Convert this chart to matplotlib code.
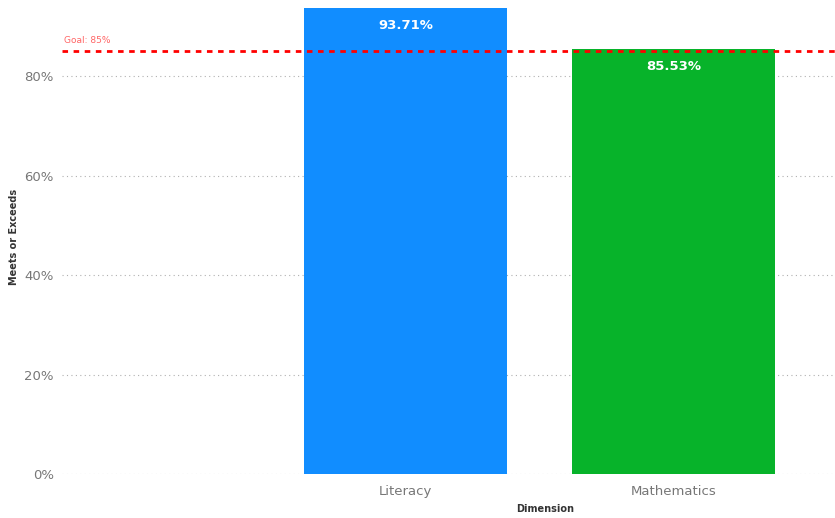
import numpy as np
import matplotlib.pyplot as plt
from matplotlib.ticker import PercentFormatter

categories = ['Literacy', 'Mathematics']
values = [0.9371, 0.8553]
colors = ['#118DFF', '#07B32A']
goal = 0.85
yticks = [0, 0.2, 0.4, 0.6, 0.8]

fig = plt.figure(figsize=(8.35, 5.18), dpi=100)
ax = fig.add_axes([62 / 835, 44 / 518, 773 / 835, 474 / 518])

x = np.arange(len(categories))
bars = ax.bar(x, values, width=0.756, color=colors, zorder=2)

ax.set_xlim(-1.279, 1.6)
ax.set_ylim(0, 0.9528)
ax.set_yticks(yticks)
ax.yaxis.set_major_formatter(PercentFormatter(1.0, decimals=0))
ax.set_xticks(x)
ax.set_xticklabels(categories)
ax.tick_params(length=0, colors='#777777', labelsize=9.5, pad=6)
ax.tick_params(axis='x', pad=8)

ax.grid(axis='y', linestyle=(0, (1, 3)), color='#b0b0b0', linewidth=0.8, zorder=0)
for s in ax.spines.values():
    s.set_visible(False)

# goal line
ax.axhline(goal, color='#FF0000', linestyle=(0, (2, 2)), linewidth=2, zorder=3)
ax.text(-1.272, goal + 0.012, 'Goal: 85%', color='#FF6666', fontsize=6.5,
        ha='left', va='bottom')

for b, v in zip(bars, values):
    ax.text(b.get_x() + b.get_width() / 2, v - 0.036, f'{v * 100:.2f}%',
            color='white', fontsize=9.5, fontweight='bold', ha='center', va='center',
            zorder=4)

ax.set_ylabel('Meets or Exceeds', fontsize=7, fontweight='bold', color='#333333')
ax.yaxis.set_label_coords(-0.056, 0.5)
fig.text(545 / 835, 1 - 509 / 518, 'Dimension', fontsize=7, fontweight='bold',
         color='#333333', ha='center', va='center')

fig.savefig('out.png', dpi=100)
